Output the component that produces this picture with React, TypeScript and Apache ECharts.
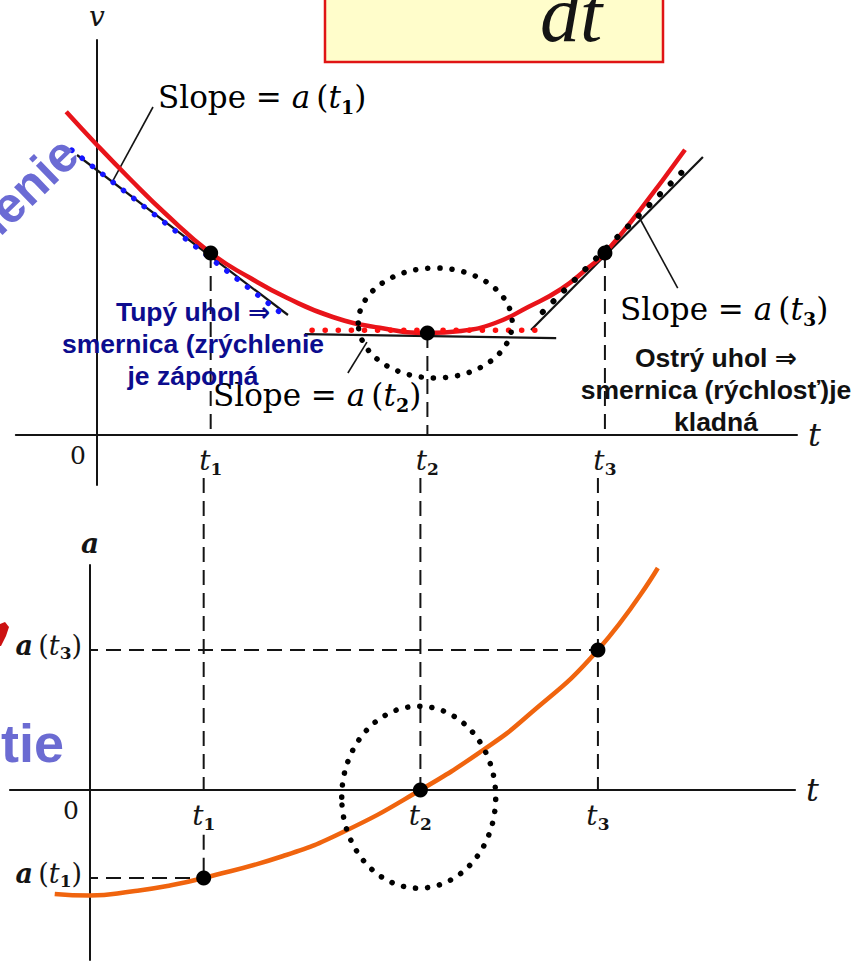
import React, { useEffect, useRef } from 'react';
import * as echarts from 'echarts';

// Marked instants t1, t2, t3 on the shared time axis
const T_MARKS = [2.03, 5.9, 9.07];
const T_SUBS = ['1', '2', '3'];

// Velocity v(t): sampled curve and its values at t1, t2, t3
const V_CURVE_T = [-0.55, 0, 0.59, 1.21, 2.03, 2.73, 3.39, 4.21, 5.05, 5.9, 6.5, 7.11, 7.7, 8.29, 8.77, 9.07, 9.7, 10.5];
const V_CURVE_V = [8.08, 7.25, 6.4, 5.55, 4.55, 3.93, 3.43, 2.95, 2.68, 2.55, 2.6, 2.8, 3.2, 3.65, 4.18, 4.55, 5.63, 7.13];
const V_AT_MARKS = [4.55, 2.55, 4.55];

// Acceleration a(t): sampled curve and its values at t1, t2, t3
const A_CURVE_T = [-0.63, 0, 0.77, 1.38, 2.03, 3.45, 4.52, 5.9, 7.02, 7.77, 9.07, 10.14];
const A_CURVE_A = [-2.6, -2.64, -2.53, -2.4, -2.2, -1.65, -1.05, 0, 1.0, 1.8, 3.5, 5.55];
const A_AT_MARKS = [-2.2, 0, 3.5];

// Tangent segments [t, v] touching the velocity curve
const TANGENT_T1 = [[-0.357, 7.0], [3.41, 3.0]];
const TANGENT_T2 = [[3.71, 2.52], [8.2, 2.42]];
const TANGENT_T3 = [[7.75, 2.625], [10.82, 6.95]];
// Dotted highlights laid over the tangents
const HILITE_T1 = [[-0.45, 7.12], [3.3, 3.03]];
const HILITE_T2 = [[3.84, 2.62], [7.86, 2.62]];
const HILITE_T3 = [[7.96, 3.075], [10.61, 6.8]];
// Leader lines from the "Slope" captions to the tangents
const LEADER_T1 = [[0.29, 6.37], [1.0, 8.2]];
const LEADER_T2 = [[4.48, 1.55], [4.82, 2.32]];
const LEADER_T3 = [[10.37, 3.67], [9.66, 5.5]];

// Panel geometry: pixel origin, pixels per unit and visible ranges
const PX_PER_T = 56;
const PX_PER_UNIT = 40;
const TOP_PANEL = { ox: 97, oy: 435, tMin: -1.45, tMax: 12.5, yMin: -1.25, yMax: 9.875 };
const BOTTOM_PANEL = { ox: 90, oy: 790, tMin: -1.43, tMax: 12.59, yMin: -4.25, yMax: 5.625 };
const DROP_TOP = 7.8; // where the drop lines enter the lower panel (a units)
const LABEL_CLEAR = -1.12; // below the t1 tick label in the lower panel

const INK = '#141414';
const SERIF = "'DejaVu Serif', serif";
const SANS = "'Liberation Sans', 'DejaVu Sans', Arial, sans-serif";

type Panel = typeof TOP_PANEL;

function gridFor(p: Panel) {
  return {
    left: p.ox + p.tMin * PX_PER_T,
    top: p.oy - p.yMax * PX_PER_UNIT,
    width: (p.tMax - p.tMin) * PX_PER_T,
    height: (p.yMax - p.yMin) * PX_PER_UNIT,
    containLabel: false,
    outerBoundsMode: 'none',
  };
}

// Rich styles for italic math with bold subscripts; `lift` raises the whole label
function mathRich(size: number, lift = 0) {
  const sub = Math.round(size * 0.6);
  return {
    n: { fontFamily: SERIF, fontSize: size, color: INK, padding: [0, 0, lift, 0] },
    i: { fontFamily: SERIF, fontStyle: 'italic', fontSize: size, color: INK, padding: [0, 0, lift, 0] },
    ib: { fontFamily: SERIF, fontStyle: 'italic', fontWeight: 'bold', fontSize: size, color: INK, padding: [0, 0, lift, 0] },
    s: {
      fontFamily: SERIF,
      fontWeight: 'bold',
      fontSize: Math.round(size * 0.62),
      padding: [sub, 0, lift, 0],
      color: INK,
    },
    z: { fontFamily: SERIF, fontSize: 25, color: INK, padding: [0, 38, 0, 0] },
  };
}

const markIndex = (list: number[], v: number) => list.findIndex((m) => Math.abs(m - v) < 1e-6);

function seg(grid: number, pts: number[][], color: string, width: number, type: any, extra: any = {}) {
  return {
    type: 'line',
    xAxisIndex: grid,
    yAxisIndex: grid,
    data: pts,
    symbol: 'none',
    silent: true,
    clip: false,
    lineStyle: { color, width, type, ...(extra.lineStyle || {}) },
    z: extra.z ?? 2,
  };
}

const DASH = [15, 8];
const DOTS = [0.1, 13];

function buildOption() {
  const pairs = (ts: number[], ys: number[]) => ts.map((t, i) => [t, ys[i]]);
  const series: any[] = [];

  // drop lines in the velocity panel
  T_MARKS.forEach((t, i) => {
    series.push(seg(0, [[t, V_AT_MARKS[i]], [t, 0]], INK, 2, DASH, { z: 1 }));
  });
  // drop lines and level lines in the acceleration panel
  series.push(seg(1, [[T_MARKS[0], DROP_TOP], [T_MARKS[0], 0]], INK, 2, DASH, { z: 1 }));
  series.push(seg(1, [[T_MARKS[0], LABEL_CLEAR], [T_MARKS[0], A_AT_MARKS[0]]], INK, 2, DASH, { z: 1 }));
  series.push(seg(1, [[T_MARKS[1], DROP_TOP], [T_MARKS[1], 0]], INK, 2, DASH, { z: 1 }));
  series.push(seg(1, [[T_MARKS[2], DROP_TOP], [T_MARKS[2], 0]], INK, 2, DASH, { z: 1 }));
  series.push(seg(1, [[0, A_AT_MARKS[2]], [T_MARKS[2], A_AT_MARKS[2]]], INK, 2, DASH, { z: 1, lineStyle: { dashOffset: 7 } }));
  series.push(seg(1, [[0, A_AT_MARKS[0]], [T_MARKS[0], A_AT_MARKS[0]]], INK, 2, DASH, { z: 1, lineStyle: { dashOffset: 7 } }));

  // tangents
  series.push(seg(0, TANGENT_T1, INK, 2.2, 'solid'));
  series.push(seg(0, TANGENT_T2, INK, 2.2, 'solid'));
  series.push(seg(0, TANGENT_T3, INK, 2.2, 'solid'));

  // velocity curve
  series.push({
    type: 'line',
    xAxisIndex: 0,
    yAxisIndex: 0,
    data: pairs(V_CURVE_T, V_CURVE_V),
    smooth: 0.5,
    symbol: 'none',
    silent: true,
    lineStyle: { color: '#e8141a', width: 4.5 },
    z: 3,
  });
  // acceleration curve
  series.push({
    type: 'line',
    xAxisIndex: 1,
    yAxisIndex: 1,
    data: pairs(A_CURVE_T, A_CURVE_A),
    smooth: 0.5,
    symbol: 'none',
    silent: true,
    lineStyle: { color: '#f0640e', width: 4.5 },
    z: 3,
  });

  // dotted highlights
  series.push(seg(0, HILITE_T1, '#1515ff', 5.5, DOTS, { z: 4, lineStyle: { cap: 'round' } }));
  series.push(seg(0, HILITE_T2, '#ff1010', 5.5, DOTS, { z: 4, lineStyle: { cap: 'round' } }));
  series.push(seg(0, HILITE_T3, '#000000', 6, [0.1, 15], { z: 4, lineStyle: { cap: 'round' } }));

  // leaders
  series.push(seg(0, LEADER_T1, INK, 1.6, 'solid'));
  series.push(seg(0, LEADER_T2, INK, 1.6, 'solid'));
  series.push(seg(0, LEADER_T3, INK, 1.6, 'solid'));

  // marked points
  const dot = { color: '#000', opacity: 1 };
  series.push({
    type: 'scatter',
    xAxisIndex: 0,
    yAxisIndex: 0,
    data: T_MARKS.map((t, i) => [t, V_AT_MARKS[i]]),
    symbolSize: 15,
    itemStyle: dot,
    silent: true,
    z: 6,
  });
  series.push({
    type: 'scatter',
    xAxisIndex: 1,
    yAxisIndex: 1,
    data: T_MARKS.map((t, i) => [t, A_AT_MARKS[i]]),
    symbolSize: 15,
    itemStyle: dot,
    silent: true,
    z: 6,
  });

  // axes sit on the zero lines; offsets are measured from the grid edges
  const tAxis = (grid: number, p: Panel, namePad: number) => ({
    type: 'value',
    gridIndex: grid,
    min: p.tMin,
    max: p.tMax,
    position: 'bottom',
    offset: p.yMin * PX_PER_UNIT,
    axisLine: { onZero: false, lineStyle: { color: INK, width: 2 } },
    axisTick: { show: false },
    splitLine: { show: false },
    axisLabel: {
      customValues: [0, ...T_MARKS],
      margin: 8,
      color: INK,
      formatter: (val: number) => {
        const k = markIndex(T_MARKS, val);
        return k < 0 ? '{z|0}' : `{i|t}{s|${T_SUBS[k]}}`;
      },
      rich: mathRich(28),
    },
    name: 't',
    nameLocation: 'end',
    nameGap: 11,
    nameTextStyle: {
      fontFamily: SERIF,
      fontStyle: 'italic',
      fontSize: 32,
      color: INK,
      padding: [namePad, 0, 0, 0],
    },
  });
  const yAxisBase = (grid: number, p: Panel) => ({
    type: 'value',
    gridIndex: grid,
    min: p.yMin,
    max: p.yMax,
    position: 'left',
    offset: p.tMin * PX_PER_T,
    axisLine: { onZero: false, lineStyle: { color: INK, width: 2 } },
    axisTick: { show: false },
    splitLine: { show: false },
  });

  return {
    animation: false,
    backgroundColor: '#ffffff',
    textStyle: { fontFamily: SERIF },
    grid: [gridFor(TOP_PANEL), gridFor(BOTTOM_PANEL)],
    xAxis: [tAxis(0, TOP_PANEL, 14), tAxis(1, BOTTOM_PANEL, 12)],
    yAxis: [
      {
        ...yAxisBase(0, TOP_PANEL),
        axisLabel: { show: false },
        name: 'v',
        nameLocation: 'end',
        nameGap: 10,
        nameTextStyle: { fontFamily: SERIF, fontStyle: 'italic', fontSize: 28, color: INK },
      },
      {
        ...yAxisBase(1, BOTTOM_PANEL),
        axisLabel: {
          customValues: [A_AT_MARKS[0], A_AT_MARKS[2]],
          margin: 8,
          formatter: (val: number) => {
            const k = markIndex(A_AT_MARKS, val);
            return `{ib|a}{n|\u2009(}{i|t}{s|${T_SUBS[k]}}{n|)}`;
          },
          rich: mathRich(27, 10),
        },
        name: 'a',
        nameLocation: 'end',
        nameGap: 8,
        nameTextStyle: { fontFamily: SERIF, fontStyle: 'italic', fontWeight: 'bold', fontSize: 28, color: INK },
      },
    ],
    series,
  };
}

function slopeText(x: number, y: number, k: string) {
  return {
    type: 'text',
    x,
    y,
    z: 30,
    style: {
      text: `{n|Slope = }{i|a}{n|\u2009(}{i|t}{s|${k}}{n|)}`,
      rich: mathRich(31),
      textAlign: 'left',
      textVerticalAlign: 'middle',
    },
  };
}

function noteText(x: number, y: number, text: string, color: string) {
  return {
    type: 'text',
    x,
    y,
    z: 30,
    style: {
      text,
      fill: color,
      font: `bold 26.5px ${SANS}`,
      lineHeight: 32,
      textAlign: 'center',
      textVerticalAlign: 'middle',
    },
  };
}

function buildGraphic(chart: echarts.ECharts) {
  const topFocus = chart.convertToPixel({ gridIndex: 0 }, [T_MARKS[1] + 0.14, V_AT_MARKS[1] + 0.25]) as number[];
  const botFocus = chart.convertToPixel({ gridIndex: 1 }, [T_MARKS[1] - 0.03, A_AT_MARKS[1] - 0.18]) as number[];
  const dotted = { fill: 'none', stroke: '#000', lineWidth: 5.5, lineDash: [0.1, 12], lineCap: 'round' };
  return [
    // formula box
    {
      type: 'rect',
      shape: { x: 325, y: -20, width: 338, height: 82 },
      style: { fill: '#fffdcb', stroke: '#e01414', lineWidth: 2.5 },
      z: 20,
    },
    {
      type: 'text',
      x: 540,
      y: 14,
      z: 21,
      style: { text: 'dt', font: `italic 80px 'Liberation Serif', serif`, fill: INK, textAlign: 'left', textVerticalAlign: 'middle' },
    },
    slopeText(158, 97, '1'),
    slopeText(213, 395, '2'),
    slopeText(620, 309, '3'),
    noteText(193, 344, 'Tupý uhol ⇒\nsmernica (zrýchlenie\nje záporná', '#0c0c8e'),
    noteText(716, 390, 'Ostrý uhol ⇒\nsmernica (rýchlosť)je\nkladná', '#111111'),
    // dotted focus rings around t2
    { type: 'ellipse', shape: { cx: topFocus[0], cy: topFocus[1], rx: 77, ry: 55 }, style: dotted, z: 25 },
    { type: 'ellipse', shape: { cx: botFocus[0], cy: botFocus[1], rx: 77, ry: 91 }, style: dotted, z: 25 },
    // slide lettering reaching in from the left edge
    {
      type: 'text',
      x: 70,
      y: 146,
      rotation: (44 * Math.PI) / 180,
      z: 30,
      style: { text: 'zrýchlenie', font: `bold 50px ${SANS}`, fill: '#6b6bd4', textAlign: 'right', textVerticalAlign: 'middle' },
    },
    {
      type: 'text',
      x: 64,
      y: 743,
      z: 30,
      style: { text: 'tie', font: `bold 54px ${SANS}`, fill: '#6b6bd2', textAlign: 'right', textVerticalAlign: 'middle' },
    },
    {
      type: 'polygon',
      shape: { points: [[0, 624], [5, 622], [9, 627], [6, 636], [1, 646], [0, 646]] },
      style: { fill: '#cc1111' },
      z: 30,
    },
  ];
}

export default function App() {
  const ref = useRef<HTMLDivElement>(null);
  useEffect(() => {
    const el = ref.current;
    if (!el) return;
    const chart = echarts.init(el, null, { renderer: 'svg' });
    chart.setOption(buildOption() as any);
    chart.setOption({ graphic: buildGraphic(chart) } as any);
    return () => chart.dispose();
  }, []);
  return (
    <div
      ref={ref}
      style={{ position: 'absolute', left: 0, top: 0, width: 856, height: 966, background: '#fff' }}
    />
  );
}
